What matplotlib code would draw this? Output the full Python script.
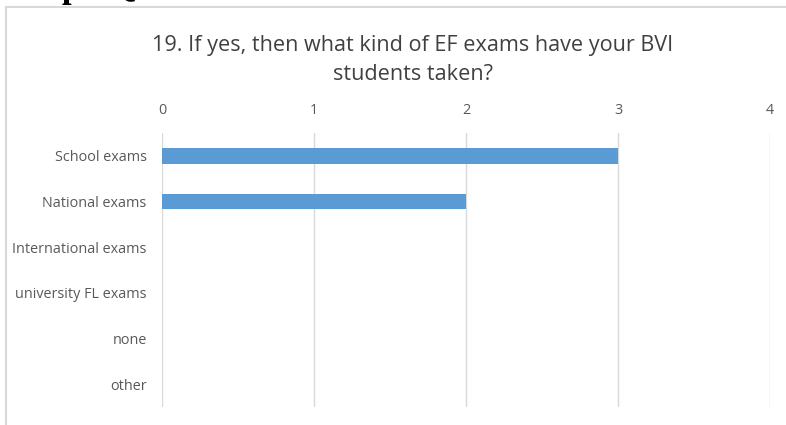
import matplotlib.pyplot as plt
from matplotlib.patches import Rectangle

categories = ["School exams", "National exams", "International exams",
              "university FL exams", "none", "other"]
counts = [3, 2, 0, 0, 0, 0]
ticks = [0, 1, 2, 3, 4]
title = "19. If yes, then what kind of EF exams have your BVI\nstudents taken?"

plt.rcParams['font.family'] = ['Open Sans', 'DejaVu Sans']

fig = plt.figure(figsize=(7.86, 4.25), dpi=100)

# chart border and the caption that sits above it
fig.patches.append(Rectangle((6 / 786, -0.1), 1.0, 1 - 7 / 425 + 0.1,
                             transform=fig.transFigure, fill=False,
                             edgecolor='#d9d9d9', linewidth=1.5))
fig.text(2 / 786, 1 + 3 / 425, "Graph Q19", family='Liberation Serif',
         fontweight='bold', fontsize=25, color='black', va='baseline')

ax = fig.add_axes([162 / 786, 1 - 407 / 425, (770 - 162) / 786, (407 - 133) / 425])

ypos = list(range(len(categories)))
ax.barh(ypos, counts, height=0.35, color='#5b9bd5', zorder=3)
ax.set_yticks(ypos)
ax.set_yticklabels(categories)
ax.set_ylim(len(categories) - 0.5, -0.5)

ax.set_xlim(0, 4)
ax.set_xticks(ticks)
ax.xaxis.tick_top()
ax.grid(axis='x', color='#d9d9d9', linewidth=1)
ax.tick_params(axis='x', length=0, pad=11, labelsize=10.4, labelcolor='#595959')
ax.tick_params(axis='y', length=0, pad=11, labelsize=10.4, labelcolor='#595959')
for s in ax.spines.values():
    s.set_visible(False)

fig.text(413 / 786, 1 - 60 / 425, title, ha='center', va='center',
         fontsize=15.6, color='#404040', linespacing=1.5)

fig.savefig("out.png", dpi=100)
